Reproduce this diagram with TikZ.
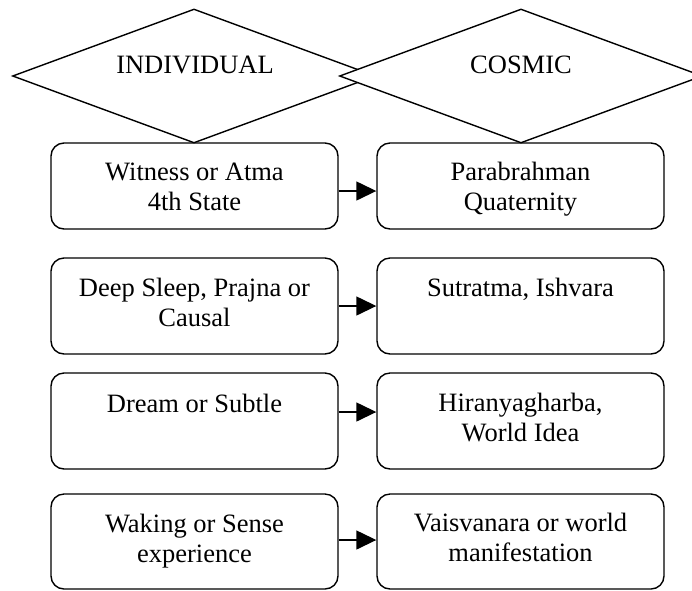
\documentclass[tikz,border=0pt]{standalone}
\usepackage{fontspec}
\setmainfont{Liberation Serif}
\usetikzlibrary{arrows.meta,shapes.geometric}
\begin{document}
\begin{tikzpicture}[x=1pt,y=-1pt,
  box/.style={draw, line width=1.4pt, rounded corners=13pt, inner sep=0pt,
              minimum width=287pt},
  txt/.style={align=center, font=\fontsize{26.5}{30}\selectfont, inner sep=0pt, anchor=base},
  dtxt/.style={font=\fontsize{26.5}{30}\selectfont, inner sep=0pt, anchor=base},
  dia/.style={draw, line width=1.4pt, fill=white, diamond, inner sep=0pt,
              minimum width=363pt, minimum height=134pt},
  conn/.style={line width=1.4pt, -{Triangle[length=20pt,width=19pt]}}
]
\useasboundingbox (0,0) rectangle (692,590);
\clip (0,0) rectangle (692,590);

% diamonds
\node[dia] (dind) at (194,76) {};
\node[dia] (dcos) at (521,76) {};
\node[dtxt] (tind) at (195,73.3) {INDIVIDUAL};
\node[dtxt] (tcos) at (521,73.3) {COSMIC};

% boxes
\node[box, minimum height=86pt] (l1) at (194.5,186) {};
\node[box, minimum height=86pt] (r1) at (520.5,186) {};
\node[box, minimum height=96pt] (l2) at (194.5,306) {};
\node[box, minimum height=96pt] (r2) at (520.5,306) {};
\node[box, minimum height=96pt] (l3) at (194.5,421) {};
\node[box, minimum height=96pt] (r3) at (520.5,421) {};
\node[box, minimum height=95pt] (l4) at (194.5,541.5) {};
\node[box, minimum height=95pt] (r4) at (520.5,541.5) {};

% texts (two-line nodes are anchored at the baseline of their last line)
\node[txt] (tl1) at ([yshift=-68pt]l1.north) {Witness or Atma\\4th State};
\node[txt] (tr1) at ([yshift=-68pt]r1.north) {Parabrahman\\Quaternity};
\node[txt] (tl2) at ([yshift=-69pt]l2.north) {Deep Sleep, Prajna or\\Causal};
\node[txt] (tr2) at ([yshift=-39pt]r2.north) {Sutratma, Ishvara};
\node[txt] (tl3) at ([yshift=-40pt]l3.north) {Dream or Subtle};
\node[txt] (tr3) at ([yshift=-69pt]r3.north) {Hiranyagharba,\\World Idea};
\node[txt] (tl4) at ([yshift=-69pt]l4.north) {Waking or Sense\\experience};
\node[txt] (tr4) at ([yshift=-68pt]r4.north) {Vaisvanara or world\\manifestation};

% connectors
\draw[conn] ([yshift=-5pt]l1.east) -- ([yshift=-5pt]r1.west);
\draw[conn] (l2.east) -- (r2.west);
\draw[conn] ([yshift=9pt]l3.east) -- ([yshift=9pt]r3.west);
\draw[conn] ([yshift=1.5pt]l4.east) -- ([yshift=1.5pt]r4.west);
\end{tikzpicture}
\end{document}
